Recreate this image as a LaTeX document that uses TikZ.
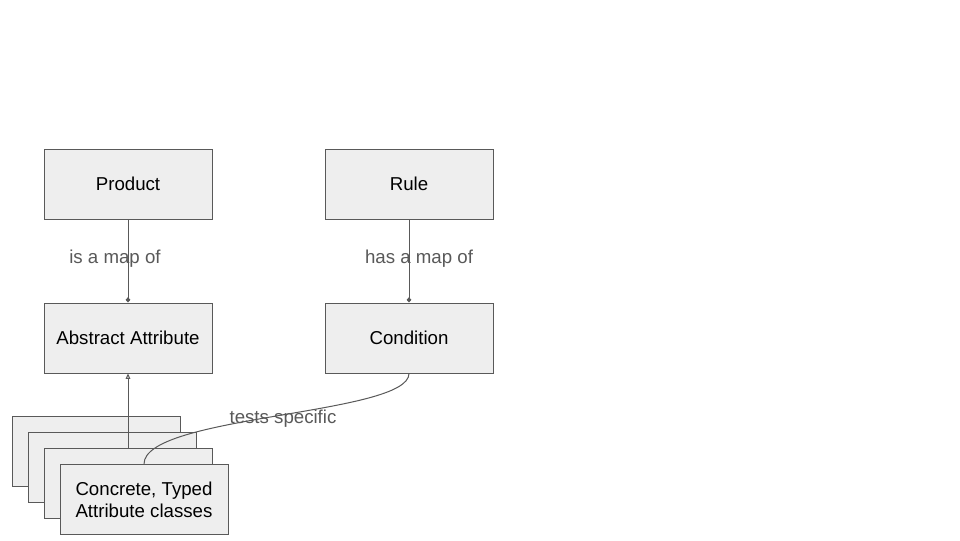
\documentclass[tikz,border=0pt]{standalone}
\usepackage{fontspec}
\setmainfont{Liberation Sans}
\usetikzlibrary{arrows.meta}
\definecolor{boxfill}{HTML}{EEEEEE}
\definecolor{linegray}{HTML}{595959}
\begin{document}
\begin{tikzpicture}[x=0.75pt,y=-0.75pt,
  box/.style={draw=linegray,fill=boxfill,line width=0.75pt,minimum width=126pt,minimum height=52.5pt,inner sep=0pt,align=center,font=\fontsize{14}{16.5}\selectfont},
  conn/.style={draw=linegray,line width=0.75pt},
  lbl/.style={text=linegray,font=\fontsize{14}{16.5}\selectfont,inner sep=0pt}]
\useasboundingbox[fill=white] (0,0) rectangle (960,540);
\node[box] (product) at (128,184) {Product};
\node[box] (rule) at (409,184) {Rule};
\node[box] (abs) at (128,338) {Abstract Attribute};
\node[box] (cond) at (409,338) {Condition};
\node[box] (c1) at (96,451.5) {};
\node[box] (c2) at (112,467.5) {};
\node[box] (c3) at (128,483.5) {};
\node[box] (c4) at (144,499.5) {Concrete, Typed\\Attribute classes};
\draw[conn,-{Diamond[length=4pt,width=3.5pt]}] (product.south) -- (abs.north);
\draw[conn,-{Diamond[length=4pt,width=3.5pt]}] (rule.south) -- (cond.north);
\draw[conn,-{Triangle[open,length=4pt,width=3.5pt]}] (c3.north) -- (abs.south);
\draw[conn] (cond.south) .. controls (409,415) and (144,415) .. (c4.north);
\node[lbl] (l1) at (115,259) {is a map of};
\node[lbl] (l2) at (419,259) {has a map of};
\node[lbl] (l3) at (283,419) {tests specific};
\end{tikzpicture}
\end{document}
